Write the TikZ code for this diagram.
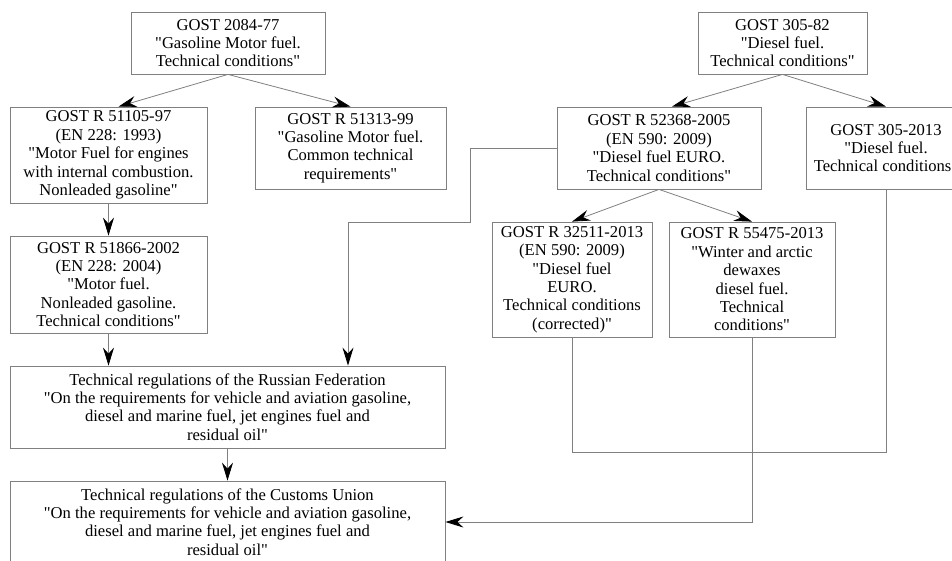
\documentclass[tikz,border=0pt]{standalone}
\usepackage{fontspec}
\setmainfont{Liberation Serif}[Ligatures=TeXOff]
\usetikzlibrary{arrows.meta}
\tikzset{
		% boxes for the standards and the two kinds of connectors
		gost box/.style={rectangle,draw=gray,line width=0.8pt,align=center,inner sep=2,font=\fontsize{16.6}{18.4}\selectfont},
		arrow line/.style={draw=gray,line width=0.8pt,-{Stealth[length=18pt,width=11pt,inset=6pt,color=black]}},
		plain line/.style={draw=gray,line width=0.8pt}
	}

\begin{document}
\begin{tikzpicture}
		[
			x=1pt,
			y=-1pt
		]
		\path[use as bounding box,clip] (0,0) rectangle (952,560);
		% gasoline branch
		\node [gost box,minimum width=194,minimum height=62] (G2084) at (228,43)
			{GOST 2084-77\\"Gasoline Motor fuel.\\Technical conditions"};
		\node [gost box,minimum width=197,minimum height=96] (R51105) at (108.5,155)
			{GOST R 51105-97\\(EN 228: 1993)\\"Motor Fuel for engines\\with internal combustion.\\Nonleaded gasoline"};
		\node [gost box,minimum width=191,minimum height=82] (R51313) at (350.5,148)
			{GOST R 51313-99\\"Gasoline Motor fuel.\\Common technical\\requirements"};
		\node [gost box,minimum width=197,minimum height=97] (R51866) at (108.5,284.5)
			{GOST R 51866-2002\\(EN 228: 2004)\\"Motor fuel.\\Nonleaded gasoline.\\Technical conditions"};
		% regulations
		\node [gost box,minimum width=435,minimum height=82] (TR-RF) at (227.5,407)
			{Technical regulations of the Russian Federation\\"On the requirements for vehicle and aviation gasoline,\\diesel and marine fuel, jet engines fuel and\\residual oil"};
		\node [gost box,minimum width=435,minimum height=82] (TR-CU) at (227.5,522)
			{Technical regulations of the Customs Union\\"On the requirements for vehicle and aviation gasoline,\\diesel and marine fuel, jet engines fuel and\\residual oil"};
		% diesel branch
		\node [gost box,minimum width=169,minimum height=62] (G305) at (782.5,43)
			{GOST 305-82\\"Diesel fuel.\\Technical conditions"};
		\node [gost box,minimum width=204,minimum height=82] (R52368) at (659,148)
			{GOST R 52368-2005\\(EN 590: 2009)\\"Diesel fuel EURO.\\Technical conditions"};
		\node [gost box,minimum width=160,minimum height=82] (G305-13) at (886,148)
			{GOST 305-2013\\"Diesel fuel.\\Technical conditions"};
		\node [gost box,minimum width=160,minimum height=115] (R32511) at (572,279.5)
			{GOST R 32511-2013\\(EN 590: 2009)\\"Diesel fuel\\EURO.\\Technical conditions\\(corrected)"};
		\node [gost box,minimum width=166,minimum height=115] (R55475) at (752,279.5)
			{GOST R 55475-2013\\"Winter and arctic\\dewaxes\\diesel fuel.\\Technical\\conditions"};
		\coordinate (turn) at (348,222);
		% connectors
		\draw [arrow line] (G2084.south) -- ([xshift=10]R51105.north);
		\draw [arrow line] (G2084.south) -- (R51313.north);
		\draw [arrow line] (R51105.south) -- (R51866.north);
		\draw [arrow line] (R51866.south) -- (TR-RF.north -| R51866.south);
		\draw [arrow line] (TR-RF.south) -- (TR-CU.north);
		\draw [arrow line] (R52368.west) -| (470,222) -- (turn) -- (turn |- TR-RF.north);
		\draw [arrow line] (G305.south) -- ([xshift=13]R52368.north);
		\draw [arrow line] (G305.south) -- (G305-13.north);
		\draw [arrow line] (R52368.south) -- (R32511.north);
		\draw [arrow line] (R52368.south) -- (R55475.north);
		\draw [plain line] (R32511.south) -- ++(0,115) -| (G305-13.south);
		\draw [arrow line] (R55475.south) |- (TR-CU.east);
	\end{tikzpicture}
\end{document}
